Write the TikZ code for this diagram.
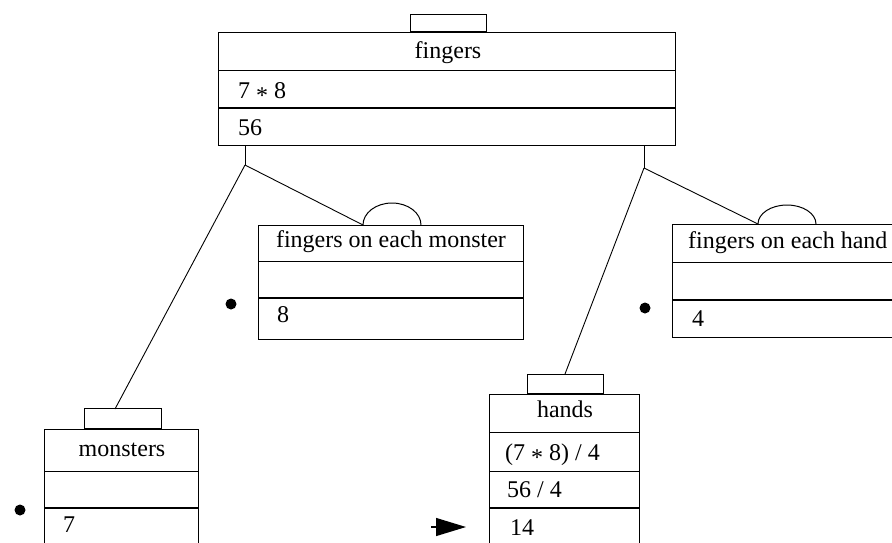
\documentclass[tikz,border=0pt]{standalone}
\usepackage{fontspec}
\setmainfont{Liberation Serif}
\usetikzlibrary{arrows.meta}
\newcommand{\fsz}{\fontsize{24}{28}\selectfont}
\newcommand{\mulstar}{\raisebox{-0.22em}{*}}
\begin{document}
\begin{tikzpicture}[x=1pt,y=1pt,
  box/.style={draw, line width=1pt, inner sep=0pt, rectangle, anchor=north west},
  tabbox/.style={draw, line width=1pt, inner sep=0pt, rectangle, anchor=south, minimum width=76pt},
  divline/.style={line width=1pt},
  divthick/.style={line width=1.6pt},
  txt/.style={inner sep=0pt, font=\fsz},
  conn/.style={line width=0.9pt},
  dotmark/.style={circle, fill=black, inner sep=0pt, minimum size=11pt},
  archump/.style={line width=1pt}
]
\useasboundingbox[fill=white] (0,0) rectangle (892,-542);

% ---- fingers (top) ----
\node[box, minimum width=457pt, minimum height=113pt] (fingers) at (218,-32) {};
\node[tabbox, minimum height=17pt] (fingtab) at (448,-32) {};
\draw[divline] (218,-70) -- (675,-70);
\draw[divthick] (218,-108) -- (675,-108);
\node[txt, anchor=base] (fingT) at (448,-58) {fingers};
\node[txt, anchor=base west] (fingE) at (238,-98) {7 \mulstar{} 8};
\node[txt, anchor=base west] (fingV) at (238,-135) {56};

% ---- fingers on each monster ----
\node[box, minimum width=265pt, minimum height=114pt] (fem) at (258,-225) {};
\draw[divline] (258,-261) -- (523,-261);
\draw[divthick] (258,-298) -- (523,-298);
\node[txt, anchor=base] (femT) at (391,-247) {fingers on each monster};
\node[txt, anchor=base west] (femV) at (277,-322) {8};
\coordinate (marc) at (363,-225);
\draw[archump] (marc) arc[start angle=180, end angle=0, x radius=29pt, y radius=22pt];
\node[dotmark] (femdot) at (231,-304) {};

% ---- fingers on each hand ----
\node[box, minimum width=231pt, minimum height=113pt] (feh) at (672,-224) {};
\draw[divline] (672,-262) -- (903,-262);
\draw[divthick] (672,-300) -- (903,-300);
\node[txt, anchor=base west] (fehT) at (688,-248) {fingers on each hand};
\node[txt, anchor=base west] (fehV) at (692,-326) {4};
\coordinate (harc) at (758,-224);
\draw[archump] (harc) arc[start angle=180, end angle=0, x radius=29pt, y radius=19pt];
\node[dotmark] (fehdot) at (645,-308) {};

% ---- monsters ----
\node[box, minimum width=154pt, minimum height=140pt] (mons) at (44,-429) {};
\node[tabbox, minimum width=77pt, minimum height=20pt] (montab) at (122.5,-429) {};
\draw[divline] (44,-471) -- (198,-471);
\draw[divthick] (44,-508) -- (198,-508);
\node[txt, anchor=base] (monT) at (122,-456) {monsters};
\node[txt, anchor=base west] (monV) at (63,-532) {7};
\node[dotmark] (mondot) at (20,-510) {};

% ---- hands ----
\node[box, minimum width=150pt, minimum height=175pt] (hands) at (489,-394) {};
\node[tabbox, minimum height=19pt] (handtab) at (565,-394) {};
\draw[divline] (489,-432) -- (639,-432);
\draw[divline] (489,-471) -- (639,-471);
\draw[divthick] (489,-508) -- (639,-508);
\node[txt, anchor=base] (handT) at (565,-417) {hands};
\node[txt, anchor=base west] (handE) at (505,-460) {(7 \mulstar{} 8) / 4};
\node[txt, anchor=base west] (handS) at (507,-497) {56 / 4};
\node[txt, anchor=base west] (handV) at (510,-535) {14};

% ---- connectors ----
\coordinate (ltop) at (245,-145);
\coordinate (lj) at (245,-165);
\coordinate (mtabpt) at (115,-409);
\draw[conn] (ltop) -- (lj);
\draw[conn] (lj) -- (mtabpt);
\draw[conn] (lj) -- (marc);

\coordinate (rtop) at (644,-145);
\coordinate (rj) at (644,-168);
\draw[conn] (rtop) -- (rj);
\draw[conn] (rj) -- (handtab.north);
\draw[conn] (rj) -- (harc);

% ---- arrow ----
\coordinate (arrS) at (431,-527);
\coordinate (arrE) at (466,-527);
\draw[line width=1.2pt, -{Triangle[length=30pt, width=18pt]}] (arrS) -- (arrE);
\end{tikzpicture}
\end{document}
